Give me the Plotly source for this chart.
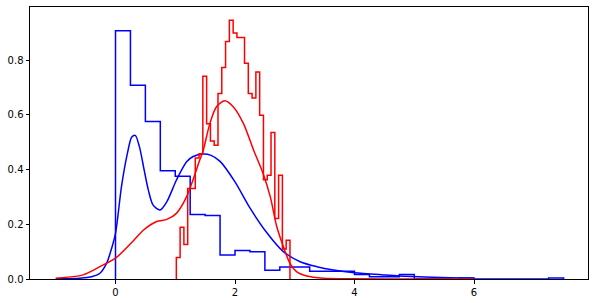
import plotly.graph_objects as go

# ---- data ----
blue_bin_start = 0.0
blue_bin_width = 0.25
blue_heights = [0.908, 0.708, 0.576, 0.396, 0.376, 0.236, 0.232, 0.088, 0.104, 0.100,
                0.032, 0.044, 0.044, 0.028, 0.028, 0.028, 0.016, 0.008, 0.008, 0.016,
                0.0, 0.0, 0.0, 0.004, 0.0, 0.0, 0.0, 0.0, 0.0, 0.004]

red_bin_start = 1.018
red_bin_width = 0.0634
red_heights = [0.079, 0.189, 0.126, 0.331, 0.331, 0.442, 0.458, 0.741, 0.568, 0.505,
               0.489, 0.678, 0.773, 0.868, 0.946, 0.899, 0.883, 0.883, 0.789, 0.678,
               0.662, 0.757, 0.599, 0.363, 0.379, 0.536, 0.221, 0.379, 0.110, 0.142]

blue_kde_x = [-1.0, -0.6, -0.4, -0.26, -0.15, -0.09, 0.0, 0.1, 0.2, 0.27, 0.33, 0.4,
              0.48, 0.55, 0.63, 0.745, 0.86, 1.02, 1.19, 1.3, 1.47, 1.6, 1.75, 2.0,
              2.25, 2.53, 2.81, 3.09, 3.37, 3.65, 4.0, 4.48, 4.76, 5.6, 6.0]
blue_kde_y = [0.001, 0.003, 0.008, 0.021, 0.057, 0.094, 0.167, 0.338, 0.46, 0.518, 0.525, 0.484,
              0.398, 0.325, 0.27, 0.252, 0.283, 0.362, 0.429, 0.448, 0.457, 0.452, 0.43, 0.355,
              0.26, 0.17, 0.1, 0.063, 0.045, 0.033, 0.023, 0.015, 0.011, 0.005, 0.003]

red_kde_x = [-1.0, -0.54, -0.26, 0.0, 0.3, 0.47, 0.69, 0.86, 1.02, 1.19, 1.41, 1.47,
             1.58, 1.69, 1.83, 1.97, 2.14, 2.31, 2.47, 2.59, 2.7, 2.81, 2.92, 3.03,
             3.2, 3.48, 4.0, 5.0, 6.0]
red_kde_y = [0.003, 0.015, 0.045, 0.076, 0.14, 0.179, 0.21, 0.218, 0.24, 0.301, 0.435, 0.472,
             0.569, 0.63, 0.652, 0.63, 0.569, 0.472, 0.386, 0.301, 0.191, 0.118, 0.057, 0.027,
             0.011, 0.003, 0.0005, 0.0, 0.0]

x_ticks = [0, 2, 4, 6]
y_ticks = [0.0, 0.2, 0.4, 0.6, 0.8]


def step_outline(start, width, heights):
    edges = [start + i * width for i in range(len(heights) + 1)]
    xs = [edges[0]] + edges
    ys = [0.0] + list(heights) + [0.0]
    return xs, ys


fig = go.Figure()

bx, by = step_outline(blue_bin_start, blue_bin_width, blue_heights)
fig.add_trace(go.Scatter(x=bx, y=by, mode="lines", line=dict(color="#0000ff", width=1.5, shape="hv"),
                         hoverinfo="skip"))
fig.add_trace(go.Scatter(x=blue_kde_x, y=blue_kde_y, mode="lines",
                         line=dict(color="#0000ff", width=1.5, shape="spline", smoothing=0.8)))

rx, ry = step_outline(red_bin_start, red_bin_width, red_heights)
fig.add_trace(go.Scatter(x=rx, y=ry, mode="lines", line=dict(color="#ff0000", width=1.5, shape="hv"),
                         hoverinfo="skip"))
fig.add_trace(go.Scatter(x=red_kde_x, y=red_kde_y, mode="lines",
                         line=dict(color="#ff0000", width=1.5, shape="spline", smoothing=0.8)))

axis_common = dict(
    showgrid=False, zeroline=False, showline=True, mirror=True, automargin=False,
    linecolor="#000000", linewidth=1, ticks="outside", ticklen=3.5, tickwidth=0.8,
    tickcolor="#000000", tickfont=dict(family="DejaVu Sans", size=10, color="#000000"),
)

fig.update_xaxes(range=[-1.431, 7.908], tickvals=x_ticks, ticktext=[str(v) for v in x_ticks],
                 **axis_common)
fig.update_yaxes(range=[0, 0.9945], tickvals=y_ticks, ticktext=[f"{v:.1f}" for v in y_ticks],
                 **axis_common)

fig.update_layout(
    width=595, height=303,
    margin=dict(l=30, r=7, t=7, b=24),
    paper_bgcolor="white", plot_bgcolor="white",
    showlegend=False,
)

fig.write_html("out.html", config={"displayModeBar": False},
               post_script="document.body.style.margin='0px';")
